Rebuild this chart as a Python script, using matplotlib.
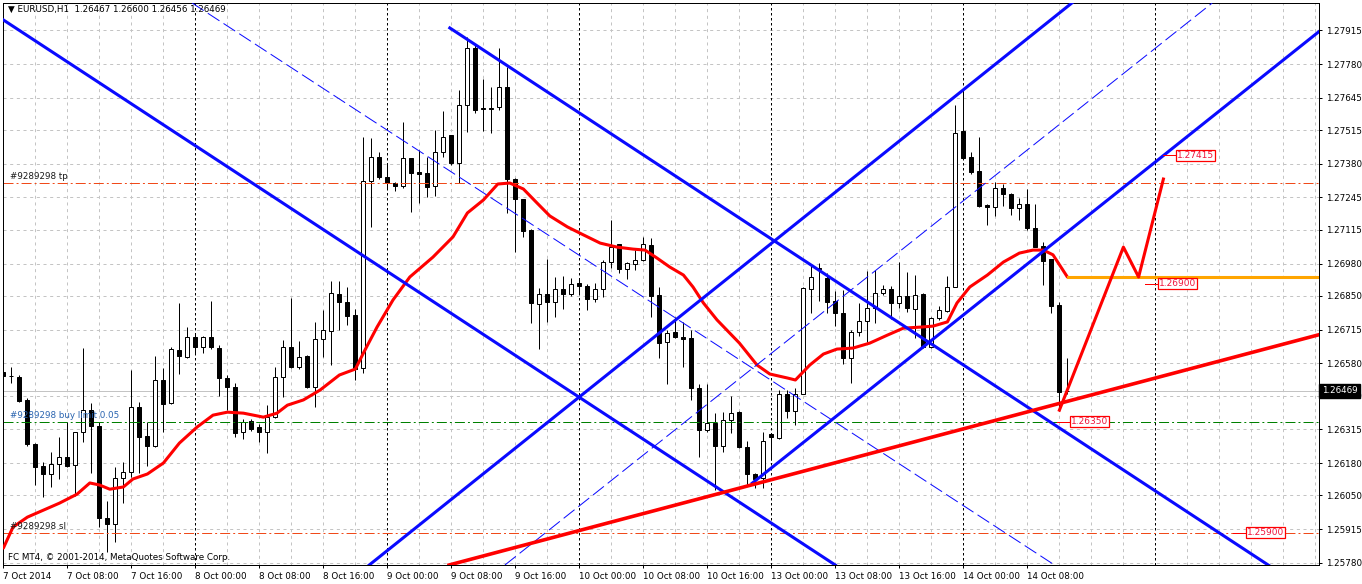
import numpy as np
import matplotlib
matplotlib.use("Agg")
import matplotlib.pyplot as plt
import matplotlib.transforms as mtransforms

plt.rcParams['font.family'] = ['DejaVu Sans']
plt.rcParams['lines.scale_dashes'] = False

# EURUSD H1, bar 0 = 7 Oct 2014 00:00
opens = [1.26547, 1.26529, 1.26526, 1.26433, 1.26256, 1.26168, 1.26135, 1.26175, 1.26206, 1.26171,
         1.26303, 1.26391, 1.26329, 1.25958, 1.25934, 1.26119, 1.26144, 1.26405, 1.26288, 1.26250,
         1.26513, 1.26420, 1.26633, 1.26607, 1.26687, 1.26644, 1.26687, 1.26640, 1.26520, 1.26484,
         1.26303, 1.26350, 1.26323, 1.26306, 1.26366, 1.26524, 1.26644, 1.26564, 1.26609, 1.26484,
         1.26676, 1.26711, 1.26858, 1.26825, 1.26774, 1.26560, 1.27311, 1.27406, 1.27326, 1.27302,
         1.27291, 1.27402, 1.27346, 1.27342, 1.27291, 1.27429, 1.27495, 1.27385, 1.27616, 1.27843,
         1.27603, 1.27601, 1.27607, 1.27687, 1.27318, 1.27238, 1.27115, 1.26817, 1.26857, 1.26825,
         1.26877, 1.26857, 1.26901, 1.26890, 1.26837, 1.26877, 1.26985, 1.27057, 1.26957, 1.26977,
         1.26994, 1.27055, 1.26854, 1.26667, 1.26704, 1.26684, 1.26680, 1.26480, 1.26313, 1.26339,
         1.26248, 1.26352, 1.26386, 1.26243, 1.26136, 1.26118, 1.26295, 1.26281, 1.26457, 1.26390,
         1.26457, 1.26876, 1.26961, 1.26921, 1.26830, 1.26780, 1.26600, 1.26704, 1.26749, 1.26803,
         1.26860, 1.26876, 1.26820, 1.26851, 1.26796, 1.26858, 1.26647, 1.26763, 1.26790, 1.26887,
         1.27512, 1.27406, 1.27351, 1.27215, 1.27208, 1.27282, 1.27258, 1.27201, 1.27217, 1.27121,
         1.27050, 1.26997, 1.26814, 1.26467]
highs = [1.26613, 1.26567, 1.26533, 1.26440, 1.26262, 1.26185, 1.26223, 1.26283, 1.26346, 1.26306,
         1.26640, 1.26420, 1.26346, 1.26029, 1.26163, 1.26185, 1.26553, 1.26426, 1.26346, 1.26609,
         1.26560, 1.26647, 1.26821, 1.26724, 1.26700, 1.26690, 1.26831, 1.26653, 1.26533, 1.26500,
         1.26357, 1.26355, 1.26337, 1.26413, 1.26567, 1.26674, 1.26841, 1.26671, 1.26612, 1.26746,
         1.26794, 1.26910, 1.26910, 1.26885, 1.26797, 1.27489, 1.27482, 1.27429, 1.27382, 1.27309,
         1.27547, 1.27405, 1.27436, 1.27409, 1.27516, 1.27592, 1.27497, 1.27676, 1.27890, 1.27857,
         1.27719, 1.27687, 1.27843, 1.27770, 1.27322, 1.27240, 1.27118, 1.26881, 1.26997, 1.26928,
         1.26930, 1.26921, 1.26921, 1.26897, 1.26901, 1.26994, 1.27155, 1.27060, 1.26985, 1.27035,
         1.27088, 1.27081, 1.26885, 1.26714, 1.26767, 1.26747, 1.26714, 1.26496, 1.26496, 1.26379,
         1.26386, 1.26449, 1.26390, 1.26269, 1.26140, 1.26306, 1.26299, 1.26473, 1.26473, 1.26479,
         1.26887, 1.26978, 1.26983, 1.26941, 1.26871, 1.26874, 1.26713, 1.26820, 1.26951, 1.26954,
         1.26894, 1.26890, 1.26987, 1.26947, 1.26934, 1.26860, 1.26767, 1.26810, 1.26930, 1.27616,
         1.27680, 1.27429, 1.27489, 1.27218, 1.27308, 1.27299, 1.27262, 1.27241, 1.27278, 1.27217,
         1.27068, 1.27000, 1.26827, 1.26600]
lows = [1.26500, 1.26500, 1.26426, 1.26250, 1.26092, 1.26045, 1.26085, 1.26115, 1.26165, 1.26048,
        1.26263, 1.26139, 1.25925, 1.25825, 1.25862, 1.26021, 1.26125, 1.26139, 1.26168, 1.26245,
        1.26306, 1.26415, 1.26537, 1.26600, 1.26620, 1.26620, 1.26637, 1.26449, 1.26393, 1.26286,
        1.26275, 1.26310, 1.26266, 1.26219, 1.26360, 1.26444, 1.26560, 1.26558, 1.26480, 1.26403,
        1.26607, 1.26573, 1.26714, 1.26734, 1.26513, 1.26540, 1.27128, 1.27320, 1.27282, 1.27269,
        1.27285, 1.27188, 1.27224, 1.27248, 1.27252, 1.27409, 1.27376, 1.27302, 1.27509, 1.27583,
        1.27513, 1.27505, 1.27596, 1.27182, 1.27028, 1.27088, 1.26743, 1.26636, 1.26747, 1.26765,
        1.26797, 1.26850, 1.26861, 1.26794, 1.26825, 1.26845, 1.26961, 1.26941, 1.26917, 1.26954,
        1.26990, 1.26767, 1.26600, 1.26496, 1.26680, 1.26567, 1.26433, 1.26203, 1.26306, 1.26070,
        1.26225, 1.26299, 1.26240, 1.26092, 1.26078, 1.26078, 1.26192, 1.26275, 1.26359, 1.26332,
        1.26455, 1.26780, 1.26831, 1.26783, 1.26729, 1.26577, 1.26502, 1.26690, 1.26667, 1.26740,
        1.26855, 1.26756, 1.26800, 1.26787, 1.26680, 1.26640, 1.26640, 1.26753, 1.26785, 1.26884,
        1.27400, 1.27340, 1.27205, 1.27135, 1.27171, 1.27211, 1.27175, 1.27155, 1.27115, 1.27045,
        1.26894, 1.26783, 1.26390, 1.26456]
closes = [1.26529, 1.26529, 1.26429, 1.26256, 1.26165, 1.26135, 1.26175, 1.26206, 1.26169, 1.26303,
          1.26391, 1.26329, 1.25958, 1.25934, 1.26119, 1.26144, 1.26405, 1.26286, 1.26250, 1.26513,
          1.26417, 1.26636, 1.26611, 1.26684, 1.26644, 1.26687, 1.26644, 1.26520, 1.26484, 1.26302,
          1.26346, 1.26317, 1.26306, 1.26363, 1.26524, 1.26644, 1.26564, 1.26607, 1.26484, 1.26676,
          1.26714, 1.26861, 1.26827, 1.26771, 1.26556, 1.27313, 1.27406, 1.27326, 1.27302, 1.27291,
          1.27402, 1.27345, 1.27341, 1.27289, 1.27429, 1.27489, 1.27385, 1.27616, 1.27843, 1.27596,
          1.27599, 1.27605, 1.27687, 1.27318, 1.27238, 1.27112, 1.26821, 1.26857, 1.26825, 1.26877,
          1.26857, 1.26897, 1.26888, 1.26837, 1.26877, 1.26985, 1.27048, 1.26957, 1.26981, 1.26994,
          1.27057, 1.26850, 1.26663, 1.26703, 1.26684, 1.26679, 1.26480, 1.26313, 1.26339, 1.26248,
          1.26352, 1.26379, 1.26245, 1.26136, 1.26116, 1.26269, 1.26286, 1.26457, 1.26390, 1.26457,
          1.26880, 1.26925, 1.26957, 1.26827, 1.26780, 1.26600, 1.26704, 1.26749, 1.26800, 1.26860,
          1.26876, 1.26820, 1.26851, 1.26800, 1.26854, 1.26644, 1.26763, 1.26794, 1.26887, 1.27505,
          1.27405, 1.27348, 1.27211, 1.27208, 1.27282, 1.27258, 1.27201, 1.27217, 1.27121, 1.27048,
          1.26991, 1.26810, 1.26466, 1.26469]

# moving average (red)
ma_bar = [0, 1.2, 3, 5, 7, 9.2, 10.8, 12, 13.3, 15, 16.2, 18, 20, 22, 24.2, 26.2, 28, 30, 32.5, 34.2,
          35.5, 37.5, 39.6, 42, 44, 45, 46.7, 48.7, 50.8, 53.7, 56.2, 58, 60, 61.8, 63.3, 65, 66.7,
          68.3, 70.5, 72.5, 74.6, 76.7, 78.7, 80.2, 81.7, 83.3, 85, 86.2, 87.5, 89.2, 92, 94.2, 95.8,
          98, 99, 100.8, 102.5, 104.2, 106.2, 108.3, 110.5, 112.5, 114.6, 116.2, 118, 119.2, 120.8,
          123, 125, 127, 128.7, 130, 131.2, 133]
ma_val = [1.25839, 1.25923, 1.25963, 1.25991, 1.26019, 1.26055, 1.26100, 1.26092, 1.26075, 1.26084,
          1.26116, 1.26136, 1.26180, 1.26260, 1.26324, 1.26372, 1.26384, 1.26380, 1.26364, 1.26380,
          1.26412, 1.26433, 1.26473, 1.26533, 1.26557, 1.26621, 1.26725, 1.26834, 1.26926, 1.27006,
          1.27087, 1.27183, 1.27235, 1.27299, 1.27303, 1.27279, 1.27223, 1.27171, 1.27127, 1.27095,
          1.27062, 1.27046, 1.27038, 1.27034, 1.27002, 1.26966, 1.26934, 1.26886, 1.26822, 1.26754,
          1.26661, 1.26573, 1.26537, 1.26521, 1.26513, 1.26573, 1.26617, 1.26637, 1.26641, 1.26661,
          1.26693, 1.26721, 1.26725, 1.26729, 1.26746, 1.26822, 1.26886, 1.26934, 1.26986, 1.27022,
          1.27034, 1.27034, 1.27015, 1.26926]

y_ticks = [1.27915, 1.27780, 1.27645, 1.27515, 1.27380, 1.27245, 1.27115, 1.26980, 1.26850,
           1.26715, 1.26580, 1.26450, 1.26315, 1.26180, 1.26050, 1.25915, 1.25780]
x_tick_bars = [0, 8, 16, 24, 32, 40, 48, 56, 64, 72, 80, 88, 96, 104, 112, 120, 128]
x_tick_labels = ["7 Oct 2014", "7 Oct 08:00", "7 Oct 16:00", "8 Oct 00:00", "8 Oct 08:00",
                 "8 Oct 16:00", "9 Oct 00:00", "9 Oct 08:00", "9 Oct 16:00", "10 Oct 00:00",
                 "10 Oct 08:00", "10 Oct 16:00", "13 Oct 00:00", "13 Oct 08:00", "13 Oct 16:00",
                 "14 Oct 00:00", "14 Oct 08:00"]
day_breaks = [24, 48, 72, 96, 120, 144]

# drawn objects: (bar, price) anchor pairs
chan_down_a = [(43, 1.27053), (87, 1.26128)]       # full line
chan_down_b = [(55.8, 1.27925), (153.35, 1.25871)]  # ray from first point
chan_down_mid = [(43.34, 1.27612), (89.59, 1.26645)]
chan_up_a = [(57.46, 1.26072), (119.96, 1.27676)]
chan_up_b = [(93.6, 1.26099), (134.59, 1.27147)]    # ray from first point
chan_up_mid = [(87.09, 1.26393), (134.59, 1.27604)]
red_trend = [(92.09, 1.26080), (134.59, 1.26441)]
zz_bar = [132.0, 140.0, 141.9, 145.0]
zz_val = [1.26392, 1.27046, 1.26926, 1.27319]
target_start = 133.1
target_level = 1.26925

tp_level = 1.27302
buy_level = 1.26346
sl_level = 1.25900

price_tags = [(146.5, 1.27415, "1.27415"), (144.3, 1.26900, "1.26900"),
              (133.3, 1.26346, "1.26350"), (155.3, 1.25900, "1.25900")]

W, H = 1362, 584
fig = plt.figure(figsize=(W / 100, H / 100), dpi=100)
fig.patch.set_facecolor("white")
ax = fig.add_axes([3 / W, (H - 565) / H, 1316 / W, 562 / H])
ax.set_xlim(-0.05, 164.45)
ax.set_ylim(1.25771, 1.28025)
ax.set_facecolor("white")

PX = 0.72
grey = "#c4c4c4"
grid_ls = (0, (2.2, 2.6))

# grid
for b in range(0, 168, 4):
    if b in day_breaks or b == 0:
        continue
    ax.axvline(b, color=grey, lw=PX, ls=grid_ls, zorder=0.5)
for v in y_ticks:
    ax.axhline(v, color=grey, lw=PX, ls=grid_ls, zorder=0.5)
for b in day_breaks:
    ax.axvline(b, color="black", lw=PX, ls=(0, (1.8, 1.8)), zorder=0.6)

# bid line
ax.axhline(closes[-1], color=grey, lw=PX, zorder=0.7)

# candles
x = np.arange(len(opens))
o = np.array(opens)
h = np.array(highs)
l = np.array(lows)
c = np.array(closes)
ax.vlines(x, l, h, color="black", lw=PX, zorder=2)
bull = c >= o
body_lo = np.minimum(o, c)
body_h = np.maximum(np.abs(c - o), 0.000005)
ax.bar(x[bull], body_h[bull], bottom=body_lo[bull], width=0.52, facecolor="white",
       edgecolor="black", linewidth=PX, zorder=2.1)
ax.bar(x[~bull], body_h[~bull], bottom=body_lo[~bull], width=0.52, facecolor="black",
       edgecolor="black", linewidth=PX, zorder=2.1)

# order lines
dashdot = (0, (7.2, 2.2, 1.4, 2.2))
ax.axhline(tp_level, color="#f04a1a", lw=PX, ls=dashdot, zorder=2.5)
ax.axhline(buy_level, color="#008000", lw=PX, ls=dashdot, zorder=2.5)
ax.axhline(sl_level, color="#f04a1a", lw=PX, ls=dashdot, zorder=2.5)
lab_font = dict(fontsize=6.3, family=["DejaVu Sans"])
ax.annotate("#9289298 tp", (0.85, tp_level), xytext=(0, 1.5), textcoords="offset points",
            va="bottom", ha="left", color="#1a1a1a", zorder=5, **lab_font)
ax.annotate("#9289298 buy limit 0.05", (0.85, buy_level), xytext=(0, 1.5), textcoords="offset points",
            va="bottom", ha="left", color="#2a64b0", zorder=5, **lab_font)
ax.annotate("#9289298 sl", (0.85, sl_level), xytext=(0, 1.5), textcoords="offset points",
            va="bottom", ha="left", color="#1a1a1a", zorder=5, **lab_font)

# moving average
ax.plot(ma_bar, ma_val, color="#ff0000", lw=2.2, solid_joinstyle="round",
        solid_capstyle="round", zorder=3)


def ray(pts, x_end=200):
    (x1, y1), (x2, y2) = pts
    k = (y2 - y1) / (x2 - x1)
    return [x1, x_end], [y1, y1 + k * (x_end - x1)]


blue = "#0a0aff"
ax.axline(chan_down_a[0], chan_down_a[1], color=blue, lw=2.2, zorder=4)
xs, ys = ray(chan_down_b)
ax.plot(xs, ys, color=blue, lw=2.2, zorder=4)
ax.axline(chan_down_mid[0], chan_down_mid[1], color=blue, lw=PX, ls=(0, (10, 3.5)), zorder=4)
ax.axline(chan_up_a[0], chan_up_a[1], color=blue, lw=2.2, zorder=4)
xs, ys = ray(chan_up_b)
ax.plot(xs, ys, color=blue, lw=2.2, zorder=4)
ax.axline(chan_up_mid[0], chan_up_mid[1], color=blue, lw=PX, ls=(0, (10, 3.5)), zorder=4)

ax.axline(red_trend[0], red_trend[1], color="#ff0000", lw=2.6, zorder=4.2)
ax.plot(zz_bar, zz_val, color="#ff0000", lw=2.2, zorder=4.2)
ax.plot([target_start, 170], [target_level, target_level], color="#ffa500", lw=2.2, zorder=4.1)

# price tags
for b, v, t in price_tags:
    ax.plot([b - 1.6, b], [v, v], color="#ff0000", lw=PX, zorder=4.5)
    ax.text(b + 0.15, v, t, ha="left", va="center", color="#f0143c", fontsize=6.5, zorder=6,
            bbox=dict(boxstyle="square,pad=0.12", fc="white", ec="#ff0000", lw=0.9))

# axes look
for s in ax.spines.values():
    s.set_color("black")
    s.set_linewidth(PX)
ax.yaxis.tick_right()
ax.set_yticks(y_ticks)
ax.set_yticklabels([f"{v:.5f}" for v in y_ticks])
ax.tick_params(axis="y", direction="out", length=2.5, width=PX, pad=2.5, labelsize=6.3,
               colors="black")
ax.set_xticks(x_tick_bars)
ax.set_xticklabels(x_tick_labels)
ax.tick_params(axis="x", direction="out", length=2.5, width=PX, pad=2.5, labelsize=6.3,
               colors="black")
for lab in ax.get_xticklabels():
    lab.set_horizontalalignment("left")

# current price tag on the axis (covers the 1.26450 label, as in the terminal)
tr = mtransforms.blended_transform_factory(ax.transAxes, ax.transData)
ax.text(1.002, closes[-1], f"{closes[-1]:.5f}", transform=tr, ha="left", va="center",
        color="white", fontsize=6.3, zorder=10, clip_on=False,
        bbox=dict(boxstyle="square,pad=0.3", fc="black", ec="black"))

# header and footer
fig.text(8 / W, 1 - 9.5 / H,
         f"▼ EURUSD,H1  {opens[-1]:.5f} {highs[-1]:.5f} {lows[-1]:.5f} {closes[-1]:.5f}",
         ha="left", va="center", fontsize=6.3, color="black")
fig.text(8 / W, 1 - 557 / H, "FC MT4, © 2001-2014, MetaQuotes Software Corp.",
         ha="left", va="center", fontsize=6.3, color="black")

fig.savefig("out.png", dpi=100)
